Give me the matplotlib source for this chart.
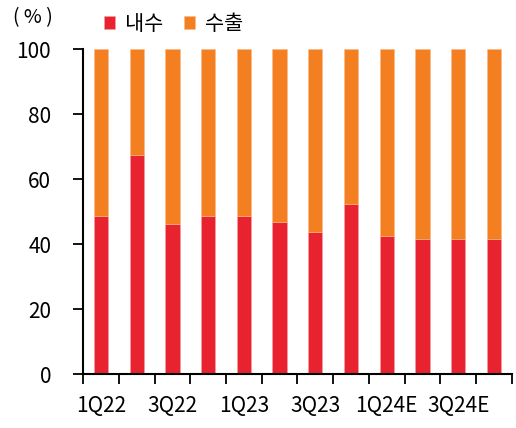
import numpy as np
import matplotlib.pyplot as plt

plt.rcParams['font.family'] = ['Noto Sans CJK KR', 'DejaVu Sans']

quarters = ['1Q22', '2Q22', '3Q22', '4Q22', '1Q23', '2Q23', '3Q23', '4Q23',
            '1Q24E', '2Q24E', '3Q24E', '4Q24E']
domestic = [48.7, 67.5, 46.3, 48.7, 48.7, 47.0, 43.9, 52.3, 42.6, 41.5, 41.5, 41.5]
export = [100 - d for d in domestic]

red = '#E8232F'
orange = '#F47F20'

fig = plt.figure(figsize=(5.16, 4.28), dpi=100)
ax = fig.add_axes([0.161, 0.1255, 0.831, 0.7595])

x = np.arange(len(quarters))
ax.bar(x, domestic, width=0.4, color=red, edgecolor='#f5a0a5', linewidth=0.4, label='내수')
ax.bar(x, export, width=0.4, bottom=domestic, color=orange, edgecolor='#f9b98a',
       linewidth=0.4, label='수출')

ax.set_xlim(-0.5, len(quarters) - 0.5)
ax.set_ylim(0, 100)
ax.set_yticks(range(0, 101, 20))

# labels on every other bar, ticks between bars
ax.set_xticks(x[::2])
ax.set_xticklabels(quarters[::2])
ax.set_xticks(np.arange(-0.5, len(quarters), 1), minor=True)
ax.tick_params(axis='x', which='major', length=0, pad=15)
ax.tick_params(axis='x', which='minor', length=7, width=1.3, direction='out')
ax.tick_params(axis='y', length=7, width=1.3, pad=16)
ax.tick_params(labelsize=15)

for s in ['top', 'right']:
    ax.spines[s].set_visible(False)
for s in ['left', 'bottom']:
    ax.spines[s].set_linewidth(1.5)

fig.text(0.025, 0.958, '( % )', fontsize=14, va='center')
ax.legend(loc='center left', bbox_to_anchor=(0.185, 0.944), bbox_transform=fig.transFigure,
          ncol=2, frameon=False, fontsize=15, handlelength=0.55, handleheight=0.55,
          handletextpad=0.45, columnspacing=1.0, borderaxespad=0)

fig.savefig('out.png', dpi=100)
